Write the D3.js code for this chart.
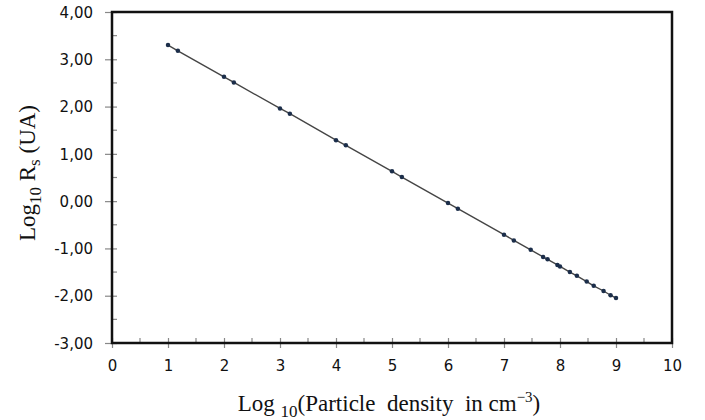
<!DOCTYPE html>
<html><head><meta charset="utf-8">
<script src="https://cdn.jsdelivr.net/npm/d3@7"></script>
<style>
body{margin:0;background:#fff;}
svg{display:block;}
.tick text{font-family:"DejaVu Sans",Verdana,sans-serif;font-size:15px;fill:#111;}
</style></head>
<body><svg id="c" width="705" height="420"></svg>
<script>
const xValues = [1, 1.176, 2, 2.176, 3, 3.176, 4, 4.176, 5, 5.176, 6, 6.176, 7, 7.176, 7.477, 7.699, 7.778, 7.954, 8, 8.176, 8.301, 8.477, 8.602, 8.778, 8.903, 9];
const yValues = [3.30, 3.18, 2.63, 2.51, 1.96, 1.85, 1.29, 1.18, 0.63, 0.51, -0.04, -0.16, -0.71, -0.83, -1.03, -1.18, -1.23, -1.35, -1.38, -1.50, -1.58, -1.70, -1.79, -1.90, -1.99, -2.05];
const xTicks = [0,1,2,3,4,5,6,7,8,9,10];
const yTicks = [4,3,2,1,0,-1,-2,-3];

const svg = d3.select("#c");
const L=112, R=672, T=12, B=343;
const x = d3.scaleLinear().domain([0,10]).range([L,R]);
const y = d3.scaleLinear().domain([-3,4]).range([B,T]);
const fmt = d => d3.format(".2f")(d).replace(".", ",").replace("−","-");

// minor ticks
const g = svg.append("g");
d3.range(0.5,10,1).forEach(v=>{
  g.append("line").attr("x1",x(v)).attr("x2",x(v)).attr("y1",B).attr("y2",B-5).attr("stroke","#888").attr("stroke-width",1.2);
});
d3.range(-2.5,4,1).forEach(v=>{
  g.append("line").attr("x1",L).attr("x2",L+5).attr("y1",y(v)).attr("y2",y(v)).attr("stroke","#888").attr("stroke-width",1.2);
});

// axes
const xAxis = svg.append("g").attr("transform",`translate(0,${B})`)
  .call(d3.axisBottom(x).tickValues(xTicks).tickFormat(d=>String(d)).tickSize(5).tickSizeOuter(0).tickPadding(12));
xAxis.selectAll(".tick line").attr("y1",-5).attr("stroke","#888").attr("stroke-width",1.2);
xAxis.select(".domain").remove();
const yAxis = svg.append("g").attr("transform",`translate(${L},0)`)
  .call(d3.axisLeft(y).tickValues(yTicks).tickFormat(fmt).tickSize(7).tickSizeOuter(0).tickPadding(12));
yAxis.selectAll(".tick line").attr("x1",5).attr("stroke","#888").attr("stroke-width",1.2);
yAxis.selectAll(".tick text").attr("dy","0.35em");
yAxis.select(".domain").remove();

// frame
svg.append("rect").attr("x",L).attr("y",T).attr("width",R-L).attr("height",B-T)
  .attr("fill","none").attr("stroke","#111").attr("stroke-width",2.5);

// data
const pts = xValues.map((v,i)=>[v,yValues[i]]);
svg.append("path").datum(pts)
  .attr("d", d3.line().x(d=>x(d[0])).y(d=>y(d[1])))
  .attr("fill","none").attr("stroke","#454545").attr("stroke-width",1.4);
svg.append("g").selectAll("path").data(pts).join("path")
  .attr("transform",d=>`translate(${x(d[0])},${y(d[1])})`)
  .attr("d", d3.symbol(d3.symbolCircle, 16))
  .attr("fill","#1c2e4a");

// titles
const serif = '"Liberation Serif","Times New Roman",serif';
const xt = svg.append("text").attr("x",389).attr("y",411).attr("text-anchor","middle")
  .attr("font-family",serif).attr("font-size",23).attr("fill","#111").attr("xml:space","preserve");
xt.append("tspan").text("Log ");
xt.append("tspan").attr("font-size",17).attr("dy",6).text("10");
xt.append("tspan").attr("dy",-6).text("(Particle  density  in cm");
xt.append("tspan").attr("font-size",15).attr("dy",-9).text("−3");
xt.append("tspan").attr("dy",9).text(")");

const yt = svg.append("text").attr("transform","translate(35,173) rotate(-90)").attr("text-anchor","middle")
  .attr("font-family",serif).attr("font-size",23).attr("fill","#111");
yt.append("tspan").text("Log");
yt.append("tspan").attr("font-size",17).attr("dy",6).text("10");
yt.append("tspan").attr("dy",-6).text(" R");
yt.append("tspan").attr("font-size",17).attr("dy",5).text("s");
yt.append("tspan").attr("dy",-5).text(" (UA)");
</script></body></html>
